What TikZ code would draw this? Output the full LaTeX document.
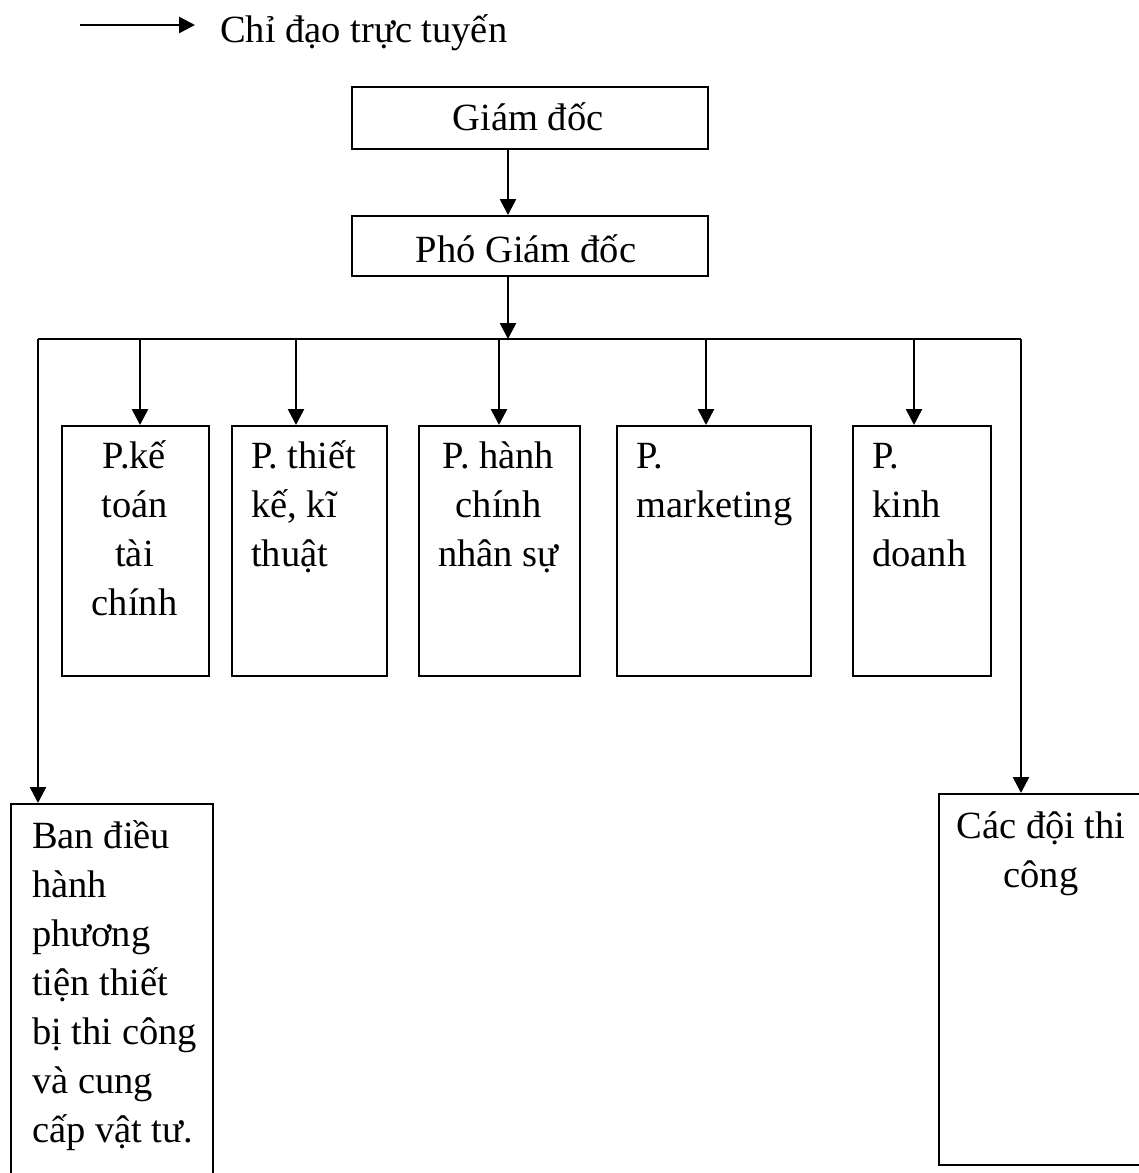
\documentclass[tikz,border=0pt]{standalone}
\usepackage{fontspec}
\setmainfont{Liberation Serif}
\usetikzlibrary{arrows.meta}
\begin{document}
\begin{tikzpicture}[x=1pt,y=-1pt,
  box/.style={draw, line width=2.3pt, inner sep=0pt, anchor=north west},
  conn/.style={line width=2.6pt},
  arr/.style={conn, -{Triangle[length=16pt,width=16pt]}},
  txt/.style={inner sep=0pt, font=\fontsize{38.5}{49}\selectfont},
]
\useasboundingbox (0,0) rectangle (1139,1173);
\clip (0,0) rectangle (1139,1173);

% legend
\coordinate (lg-s) at (80,25);
\coordinate (lg-e) at (195,25);
\draw[arr] (lg-s) -- (lg-e);
\node[txt, anchor=base west] (lg-t) at (220,42) {Chỉ đạo trực tuyến};

% top boxes
\node[box, minimum width=356pt, minimum height=62pt] (gd) at (351,86) {};
\node[txt, anchor=base] (gd-t) at (528,130) {Giám đốc};
\node[box, minimum width=356pt, minimum height=60pt] (pgd) at (351,215) {};
\node[txt, anchor=base] (pgd-t) at (526,262) {Phó Giám đốc};

% department boxes
\node[box, minimum width=147pt, minimum height=250pt] (kt) at (61,425) {};
\node[box, minimum width=155pt, minimum height=250pt] (tk) at (231,425) {};
\node[box, minimum width=161pt, minimum height=250pt] (hc) at (418,425) {};
\node[box, minimum width=194pt, minimum height=250pt] (mk) at (616,425) {};
\node[box, minimum width=138pt, minimum height=250pt] (kd) at (852,425) {};

\node[txt, anchor=base] (kt-t) at (134.5,468) {\parbox[t]{140pt}{\centering P.kế\\toán\\tài\\chính}};
\node[txt, anchor=base west] (tk-t) at (251,468) {\parbox[t]{134pt}{\raggedright P. thiết\\kế, kĩ\\thuật}};
\node[txt, anchor=base] (hc-t) at (498.5,468) {\parbox[t]{158pt}{\centering P. hành\\chính\\nhân sự}};
\node[txt, anchor=base west] (mk-t) at (636,468) {\parbox[t]{170pt}{\raggedright P.\\marketing}};
\node[txt, anchor=base west] (kd-t) at (872,468) {\parbox[t]{116pt}{\raggedright P.\\kinh\\doanh}};

% bottom boxes
\node[box, minimum width=202pt, minimum height=420pt] (ban) at (10,803) {};
\node[txt, anchor=base west] (ban-t) at (32,848) {\parbox[t]{178pt}{\raggedright Ban điều\\hành\\phương\\tiện thiết\\bị thi công\\và cung\\cấp vật tư.}};
\node[box, minimum width=206pt, minimum height=371pt] (doi) at (938,793) {};
\node[txt, anchor=base] (doi-t) at (1041,838) {\parbox[t]{200pt}{\centering Các đội thi\\công}};

% connectors
\coordinate (bm) at (508,339);
\coordinate (bl) at (38,339);
\coordinate (br) at (1021,339);
\coordinate (b1) at (140,339);
\coordinate (b2) at (296,339);
\coordinate (b3) at (499,339);
\coordinate (b4) at (706,339);
\coordinate (b5) at (914,339);

\draw[arr] (gd.south -| bm) -- (bm |- pgd.north);
\draw[arr] (pgd.south -| bm) -- (bm);
\draw[conn] (bl) -- (br);
\draw[arr] (bl) -- (bl |- ban.north);
\draw[arr] (br) -- (br |- doi.north);
\draw[arr] (b1) -- (b1 |- kt.north);
\draw[arr] (b2) -- (b2 |- tk.north);
\draw[arr] (b3) -- (b3 |- hc.north);
\draw[arr] (b4) -- (b4 |- mk.north);
\draw[arr] (b5) -- (b5 |- kd.north);
\end{tikzpicture}
\end{document}
